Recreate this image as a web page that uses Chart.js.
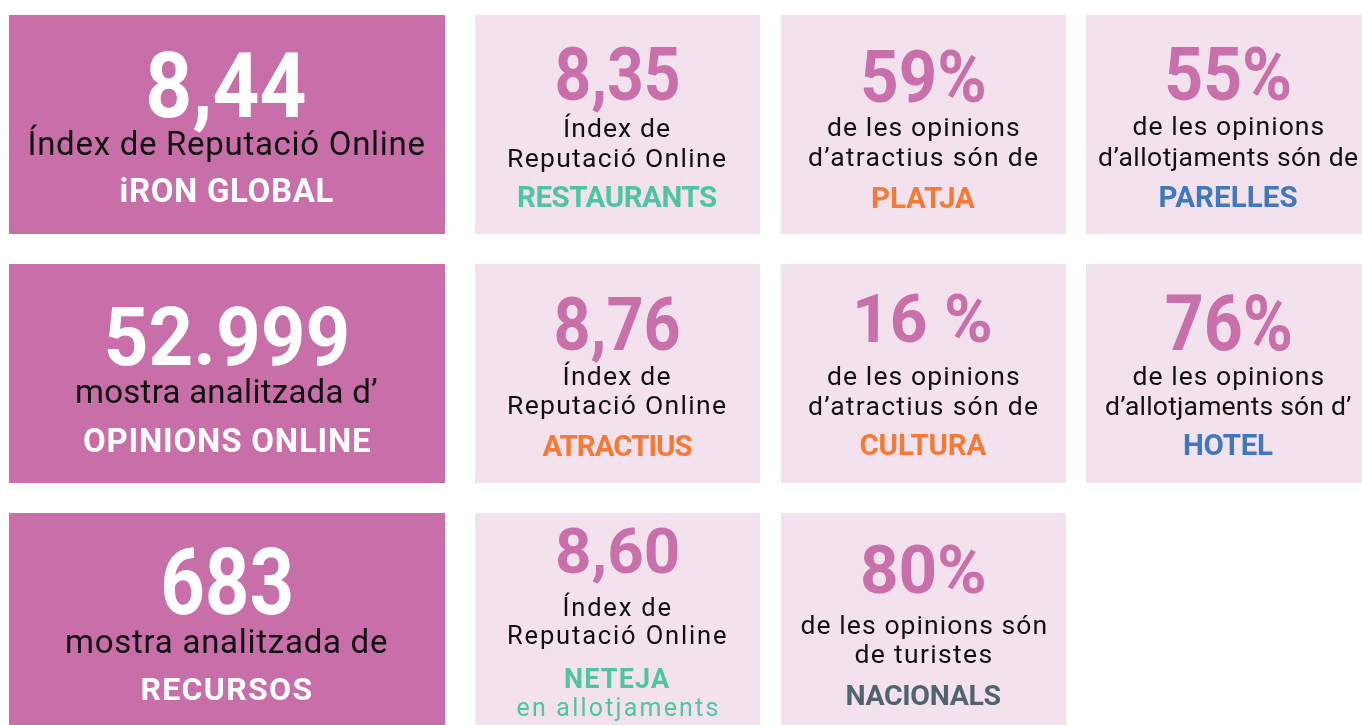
<!DOCTYPE html>
<html>
<head>
<meta charset="utf-8">
<script src="https://cdn.jsdelivr.net/npm/chart.js@4/dist/chart.umd.min.js"></script>
<style>
  html, body { margin: 0; padding: 0; background: #ffffff; overflow: hidden; }
  #wrap { width: 1362px; height: 725px; overflow: hidden; position: relative; }
  canvas { display: block; }
</style>
</head>
<body>
<div id="wrap"><canvas id="c" width="1362" height="747"></canvas></div>
<script>
// ---------------- DATA ----------------
const rowLabels = ['Fila 1', 'Fila 2', 'Fila 3'];
const columnNames = ['Global', 'Índex', 'Atractius', 'Allotjaments'];

const globalValues = ['8,44', '52.999', '683'];
const globalTexts  = [['Índex de Reputació Online'], ['mostra analitzada d’'], ['mostra analitzada de']];
const globalTags   = ['iRON GLOBAL', 'OPINIONS ONLINE', 'RECURSOS'];

const indexValues = ['8,35', '8,76', '8,60'];
const indexTexts  = [['Índex de', 'Reputació Online'], ['Índex de', 'Reputació Online'], ['Índex de', 'Reputació Online']];
const indexTags   = ['RESTAURANTS', 'ATRACTIUS', 'NETEJA'];
const indexNotes  = [null, null, 'en allotjaments'];

const shareValues = ['59%', '16 %', '80%'];
const shareTexts  = [['de les opinions', 'd’atractius són de'], ['de les opinions', 'd’atractius són de'], ['de les opinions són', 'de turistes']];
const shareTags   = ['PLATJA', 'CULTURA', 'NACIONALS'];

const lodgingValues = ['55%', '76%', null];
const lodgingTexts  = [['de les opinions', 'd’allotjaments són de'], ['de les opinions', 'd’allotjaments són d’'], null];
const lodgingTags   = ['PARELLES', 'HOTEL', null];

const columnValues = [globalValues, indexValues, shareValues, lodgingValues];
const columnTexts  = [globalTexts, indexTexts, shareTexts, lodgingTexts];
const columnTags   = [globalTags, indexTags, shareTags, lodgingTags];
const columnNotes  = [[null, null, null], indexNotes, [null, null, null], [null, null, null]];

// ---------------- STYLE / LAYOUT ----------------
const COLORS = {
  dark: '#C86EA8', light: '#F3E2EE', pink: '#C96FAA',
  green: '#4EC4A1', orange: '#F47A35', blue: '#3F78BD', slate: '#4F6371',
  white: '#FFFFFF', black: '#111111'
};
const tileColors = [COLORS.dark, COLORS.light, COLORS.light, COLORS.light];
const valueColors = [COLORS.white, COLORS.pink, COLORS.pink, COLORS.pink];
const textColors = [COLORS.black, COLORS.black, COLORS.black, COLORS.black];
const tagColors = [
  [COLORS.white, COLORS.white, COLORS.white],
  [COLORS.green, COLORS.orange, COLORS.green],
  [COLORS.orange, COLORS.orange, COLORS.slate],
  [COLORS.blue, COLORS.blue, null]
];
// horizontal extent of each column on the x axis (layout)
const colSpans = [[9, 445], [475, 760], [781, 1066], [1086, 1371]];
// per tile line layout: [baseline offset from tile top, font px, ink width]
const lineLayout = [
  [ // column 1
    [[102, 90, 156], [140, 33, 395], [187, 33, 213]],
    [[101, 82, 239], [139, 33, 300], [188, 33, 286]],
    [[101, 93, 127], [140, 33, 320], [187, 32, 169]]
  ],
  [ // column 2
    [[85, 75, 121], [122, 26.5, 105], [152, 26.5, 217], [192, 29.5, 199]],
    [[86, 75, 123], [121, 26.5, 106], [150, 26.5, 217], [192, 29.5, 150]],
    [[60, 63, 121], [103, 25.5, 106], [131, 25.5, 217], [175, 27, 105], [203, 25, 200]]
  ],
  [ // column 3
    [[87, 73, 121], [121, 26.5, 191], [151, 26.5, 229], [193, 29.5, 103]],
    [[78, 66, 133], [121, 26.5, 191], [151, 26.5, 229], [191, 29.5, 126]],
    [[80, 66, 121], [121, 26.5, 244], [150, 26.5, 136], [192, 28.5, 154]]
  ],
  [ // column 4
    [[85, 75, 123], [120, 26.5, 190], [151, 26.5, 259], [192, 29.5, 138]],
    [[86, 77, 124], [121, 26.5, 190], [151, 26.5, 245], [191, 29.5, 89]],
    null
  ]
];
const FONT = 'Roboto, "Open Sans", sans-serif';

function fitText(ctx, text, cx, baseline, size, width, weight, color, mode) {
  ctx.font = weight + ' ' + size + 'px ' + FONT;
  if ('letterSpacing' in ctx) ctx.letterSpacing = '0px';
  ctx.fillStyle = color;
  ctx.textAlign = 'left';
  ctx.textBaseline = 'alphabetic';
  const m = ctx.measureText(text);
  const ink = m.actualBoundingBoxLeft + m.actualBoundingBoxRight;
  if (!width) { ctx.fillText(text, cx - ink / 2 + m.actualBoundingBoxLeft, baseline); return; }
  const n = Array.from(text).length;
  if (mode === 'scale' || !('letterSpacing' in ctx) || n < 2) {
    const sx = width / ink;
    ctx.save();
    ctx.translate(cx - width / 2, baseline);
    ctx.scale(sx, 1);
    ctx.fillText(text, m.actualBoundingBoxLeft, 0);
    ctx.restore();
  } else {
    const ls = (width - ink) / (n - 1);
    ctx.letterSpacing = ls.toFixed(2) + 'px';
    ctx.fillText(text, cx - width / 2 + m.actualBoundingBoxLeft, baseline);
    ctx.letterSpacing = '0px';
  }
}

const tileText = {
  id: 'tileText',
  afterDatasetsDraw(chart) {
    const ctx = chart.ctx;
    chart.data.datasets.forEach((ds, c) => {
      const meta = chart.getDatasetMeta(c);
      meta.data.forEach((el, r) => {
        const value = columnValues[c][r];
        if (value == null) return;
        const layout = lineLayout[c][r];
        const left = Math.min(el.x, el.base), right = Math.max(el.x, el.base);
        const cx = (left + right) / 2;
        const top = el.y - el.height / 2;
        let k = 0;
        const L = () => layout[k++];
        let s = L();
        fitText(ctx, value, cx, top + s[0], s[1], s[2], 'bold', valueColors[c], 'scale');
        columnTexts[c][r].forEach(t => {
          s = L();
          fitText(ctx, t, cx, top + s[0], s[1], s[2], 'normal', textColors[c], 'spacing');
        });
        s = L();
        fitText(ctx, columnTags[c][r], cx, top + s[0], s[1], s[2], 'bold', tagColors[c][r], 'spacing');
        const note = columnNotes[c][r];
        if (note) {
          s = L();
          fitText(ctx, note, cx, top + s[0], s[1], s[2], 'normal', tagColors[c][r], 'spacing');
        }
      });
    });
  }
};

const datasets = columnNames.map((name, c) => ({
  label: name,
  data: rowLabels.map((_, r) => columnValues[c][r] != null ? colSpans[c] : null),
  backgroundColor: tileColors[c],
  borderWidth: 0,
  borderSkipped: false,
  grouped: false,
  categoryPercentage: 1,
  barPercentage: 219 / 249
}));

new Chart(document.getElementById('c'), {
  type: 'bar',
  data: { labels: rowLabels, datasets },
  options: {
    indexAxis: 'y',
    responsive: false,
    maintainAspectRatio: false,
    animation: false,
    layout: { padding: 0 },
    plugins: { legend: { display: false }, tooltip: { enabled: false }, title: { display: false } },
    scales: {
      x: { type: 'linear', min: 0, max: 1362, display: false },
      y: { type: 'category', display: false, offset: true }
    }
  },
  plugins: [tileText]
});
</script>
</body>
</html>
